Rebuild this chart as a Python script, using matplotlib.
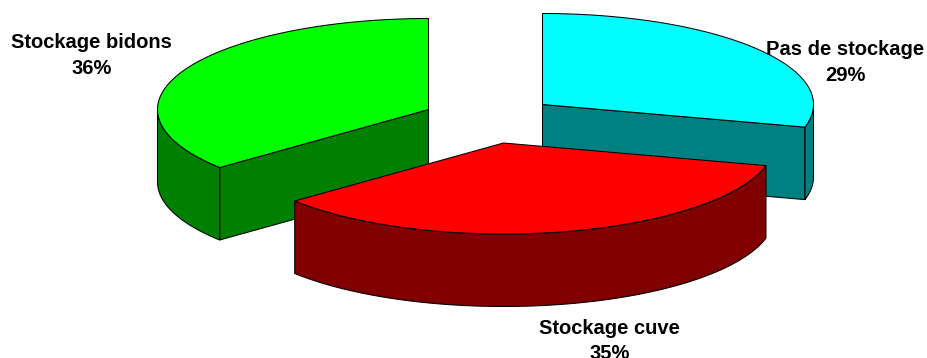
import numpy as np
import matplotlib
matplotlib.use("Agg")
from matplotlib import pyplot as plt
from matplotlib.patches import Polygon

plt.rcParams['font.family'] = ['Liberation Sans', 'DejaVu Sans']

labels = ["Pas de stockage", "Stockage cuve", "Stockage bidons"]
values = [29, 35, 36]
top_colors = ["#00FFFF", "#FF0000", "#00FF00"]
side_colors = ["#008080", "#800000", "#008000"]

# centre de chaque part (éclaté) et position des étiquettes, en pixels
centers = [(542.5, 104.5), (503.5, 143), (428.5, 109.5)]
label_pos = [(845.5, 62.5), (609.5, 341), (91.5, 55.5)]
RX, RY = 271, 91
DEPTH = 72.5


def arc(center, a1, a2):
    t = np.radians(np.linspace(a1, a2, 120))
    return np.column_stack((center[0] + RX * np.cos(t), center[1] - RY * np.sin(t)))


def add_poly(ax, pts, color, z):
    ax.add_patch(Polygon(pts, closed=True, facecolor=color, edgecolor="black",
                         linewidth=0.75, joinstyle="round", zorder=z))


fig = plt.figure(figsize=(9.27, 3.58), dpi=100)
ax = fig.add_axes([0, 0, 1, 1])
ax.set_xlim(0, 927)
ax.set_ylim(358, 0)
ax.axis("off")

# les angles partent du haut et tournent dans le sens horaire
start = 90.0
angles = []
for v in values:
    end = start - v * 3.6
    angles.append((start, end))
    start = end

# ordre de dessin : bidons, pas de stockage, puis cuve par-dessus
for i, base in [(2, 1), (0, 5), (1, 9)]:
    a1, a2 = angles[i]
    c = centers[i]
    down = np.array([0, DEPTH])
    edge = arc(c, a1, a2)

    # face de coupe tournée vers l'avant
    if i == 0:
        p = edge[-1]
        add_poly(ax, [c, p, p + down, np.array(c) + down], side_colors[i], base)
    if i == 2:
        p = edge[0]
        add_poly(ax, [c, p, p + down, np.array(c) + down], side_colors[i], base)

    # paroi extérieure : seulement la partie tournée vers l'avant
    t = np.radians(np.linspace(a1, a2, 240))
    front = np.sin(t) <= 0
    wall = np.column_stack((c[0] + RX * np.cos(t[front]), c[1] - RY * np.sin(t[front])))
    add_poly(ax, np.vstack((wall, wall[::-1] + down)), side_colors[i], base + 1)

    # dessus de la part
    add_poly(ax, np.vstack(([c], edge)), top_colors[i], base + 2)

for name, v, pos in zip(labels, values, label_pos):
    ax.text(pos[0], pos[1], "%s\n%d%%" % (name, v), ha="center", va="center",
            fontsize=14.5, fontweight="bold", color="black", linespacing=1.43, zorder=20)

fig.savefig("out.png", dpi=100)
